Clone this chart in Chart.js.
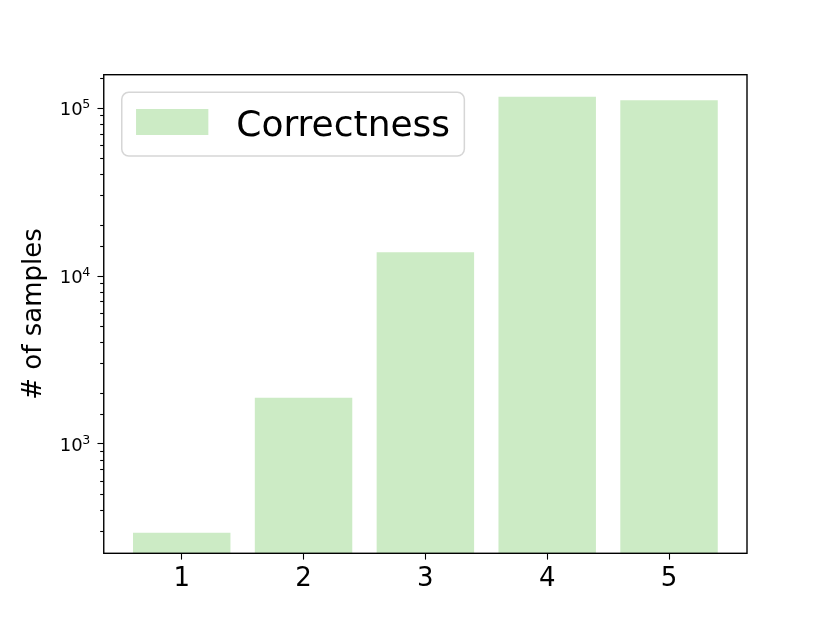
<!DOCTYPE html>
<html>
<head>
<meta charset="utf-8">
<script src="https://cdn.jsdelivr.net/npm/chart.js@4"></script>
<style>
  html, body { margin: 0; padding: 0; background: #ffffff; }
  #wrap { width: 830px; height: 623px; position: relative; }
</style>
</head>
<body>
<div id="wrap"><canvas id="c"></canvas></div>
<script>
// ---- data ----
const categories = [1, 2, 3, 4, 5];
const sampleCounts = [293, 1870, 13770, 116300, 110700];
const seriesLabel = 'Correctness';
const yTickBases = ['10', '10', '10'];
const yTickExps = ['3', '4', '5'];
const yTickValues = [1000, 10000, 100000];
const yAxisTitle = '# of samples';

const barColor = '#ccebc5';
const FONT = '"DejaVu Sans", sans-serif';

const framePlugin = {
  id: 'framePlugin',
  afterDraw(chart) {
    const ctx = chart.ctx;
    const ca = chart.chartArea;
    const ys = chart.scales.y;
    ctx.save();
    // y ticks (major + minor) from the log scale
    ctx.strokeStyle = '#000';
    ctx.lineWidth = 1.1;
    ys.ticks.forEach(t => {
      const v = t.value;
      if (v < ys.min || v > ys.max) return;
      const py = Math.round(ys.getPixelForValue(v)) + 0.5;
      const lg = Math.log10(v);
      const major = Math.abs(lg - Math.round(lg)) < 1e-9;
      const len = major ? 6.3 : 3.6;
      ctx.beginPath();
      ctx.moveTo(ca.left - len, py);
      ctx.lineTo(ca.left, py);
      ctx.stroke();
    });
    // y tick labels with superscript exponents
    ctx.fillStyle = '#000';
    yTickValues.forEach((v, i) => {
      const py = ys.getPixelForValue(v);
      ctx.font = '12.6px ' + FONT;
      const ew = ctx.measureText(yTickExps[i]).width;
      const right = ca.left - 13.5;
      ctx.textAlign = 'right';
      ctx.textBaseline = 'alphabetic';
      ctx.fillText(yTickExps[i], right, py + 0.3);
      ctx.font = '18px ' + FONT;
      ctx.fillText(yTickBases[i], right - ew + 0.5, py + 7.3);
    });
    // y axis title
    ctx.save();
    ctx.translate(40.6, (ca.top + ca.bottom) / 2);
    ctx.rotate(-Math.PI / 2);
    ctx.font = '26px ' + FONT;
    ctx.textAlign = 'center';
    ctx.textBaseline = 'alphabetic';
    ctx.fillText(yAxisTitle, 0, 0);
    ctx.restore();
    // axes frame
    ctx.lineWidth = 1.4;
    ctx.strokeStyle = '#000';
    ctx.strokeRect(ca.left, ca.top, ca.right - ca.left, ca.bottom - ca.top);
    // legend
    const ds = chart.data.datasets[0];
    const lx = ca.left + 18, ly = ca.top + 17.6, lw = 342.6, lh = 63.7, r = 7;
    ctx.beginPath();
    ctx.moveTo(lx + r, ly);
    ctx.lineTo(lx + lw - r, ly);
    ctx.arcTo(lx + lw, ly, lx + lw, ly + r, r);
    ctx.lineTo(lx + lw, ly + lh - r);
    ctx.arcTo(lx + lw, ly + lh, lx + lw - r, ly + lh, r);
    ctx.lineTo(lx + r, ly + lh);
    ctx.arcTo(lx, ly + lh, lx, ly + lh - r, r);
    ctx.lineTo(lx, ly + r);
    ctx.arcTo(lx, ly, lx + r, ly, r);
    ctx.closePath();
    ctx.fillStyle = 'rgba(255,255,255,0.8)';
    ctx.fill();
    ctx.strokeStyle = '#d6d6d6';
    ctx.lineWidth = 1.5;
    ctx.stroke();
    ctx.fillStyle = ds.backgroundColor;
    ctx.fillRect(lx + 14.3, ly + 16.7, 72.3, 26);
    ctx.fillStyle = '#000';
    ctx.font = '36px ' + FONT;
    ctx.textAlign = 'left';
    ctx.textBaseline = 'alphabetic';
    ctx.fillText(ds.label, lx + 114.5, ly + 43.2);
    ctx.restore();
  }
};

new Chart(document.getElementById('c'), {
  type: 'bar',
  data: {
    datasets: [{
      label: seriesLabel,
      data: categories.map((c, i) => ({ x: c, y: sampleCounts[i] })),
      backgroundColor: barColor,
      borderWidth: 0,
      categoryPercentage: 1.0,
      barPercentage: 0.8
    }]
  },
  options: {
    responsive: true,
    maintainAspectRatio: false,
    animation: false,
    layout: { padding: { left: 0, top: 74.7, right: 83, bottom: 0 } },
    plugins: { legend: { display: false }, tooltip: { enabled: false } },
    scales: {
      x: {
        type: 'linear',
        offset: false,
        min: 0.36,
        max: 5.64,
        afterBuildTicks: s => { s.ticks = categories.map(v => ({ value: v })); },
        afterFit: s => { s.height = 623 - 553.3; },
        grid: { offset: false, drawOnChartArea: false, drawTicks: true, tickLength: 6.3, tickColor: '#000', tickWidth: 1.1 },
        border: { display: false },
        ticks: { color: '#000', font: { family: FONT, size: 26 }, padding: 4, maxRotation: 0 }
      },
      y: {
        type: 'logarithmic',
        min: 221,
        max: 157300,
        afterBuildTicks: s => { s.ticks = s.ticks.filter(t => t.value > s.min && t.value < s.max); },
        afterFit: s => { s.width = 103.75; },
        grid: { display: false },
        border: { display: false },
        ticks: { display: false }
      }
    }
  },
  plugins: [framePlugin]
});
</script>
</body>
</html>
